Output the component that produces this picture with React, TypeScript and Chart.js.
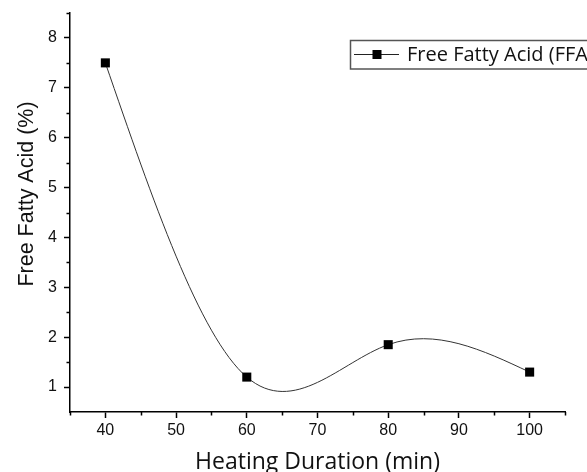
import React, { useEffect, useRef } from "react";
import { Chart, registerables } from "chart.js";

Chart.register(...registerables);

const durations = [40, 60, 80, 100];
const ffaValues = [7.5, 1.2, 1.85, 1.3];
const seriesLabel = "Free Fatty Acid (FFA)";
const xTitle = "Heating Duration (min)";
const yTitle = "Free Fatty Acid (%)";
const xMajorTicks = [40, 50, 60, 70, 80, 90, 100];
const xMinorTicks = [35, 45, 55, 65, 75, 85, 95, 105];
const yMajorTicks = [1, 2, 3, 4, 5, 6, 7, 8];
const yMinorTicks = [1.5, 2.5, 3.5, 4.5, 5.5, 6.5, 7.5, 8.5];

// Sets the Bezier control points of the line elements so that the path
// follows a natural cubic spline through the data points (as Origin draws).
const naturalSplinePlugin = {
  id: "naturalSpline",
  beforeDatasetDraw(chart: any, args: any) {
    const meta = args.meta;
    const line = meta.dataset;
    if (!line) return;
    if (line.updateControlPoints) line.updateControlPoints(chart.chartArea, "x");
    const pts = meta.data;
    const n = pts.length;
    if (n < 3) return;
    const xs = pts.map((p: any) => p.x);
    const ys = pts.map((p: any) => p.y);
    const h: number[] = [];
    for (let i = 0; i < n - 1; i++) h.push(xs[i + 1] - xs[i]);
    const M = new Array(n).fill(0);
    const a: number[] = [], b: number[] = [], c: number[] = [], d: number[] = [];
    for (let i = 1; i < n - 1; i++) {
      a.push(h[i - 1]);
      b.push(2 * (h[i - 1] + h[i]));
      c.push(h[i]);
      d.push(6 * ((ys[i + 1] - ys[i]) / h[i] - (ys[i] - ys[i - 1]) / h[i - 1]));
    }
    const m = b.length;
    for (let i = 1; i < m; i++) {
      const w = a[i] / b[i - 1];
      b[i] -= w * c[i - 1];
      d[i] -= w * d[i - 1];
    }
    const sol = new Array(m).fill(0);
    sol[m - 1] = d[m - 1] / b[m - 1];
    for (let i = m - 2; i >= 0; i--) sol[i] = (d[i] - c[i] * sol[i + 1]) / b[i];
    for (let i = 0; i < m; i++) M[i + 1] = sol[i];
    for (let i = 0; i < n - 1; i++) {
      const hi = h[i];
      const sl = (ys[i + 1] - ys[i]) / hi;
      const s0 = sl - (hi * (2 * M[i] + M[i + 1])) / 6;
      const s1 = sl + (hi * (M[i] + 2 * M[i + 1])) / 6;
      pts[i].cp2x = xs[i] + hi / 3;
      pts[i].cp2y = ys[i] + (s0 * hi) / 3;
      pts[i + 1].cp1x = xs[i + 1] - hi / 3;
      pts[i + 1].cp1y = ys[i + 1] - (s1 * hi) / 3;
    }
    pts[0].cp1x = xs[0];
    pts[0].cp1y = ys[0];
    pts[n - 1].cp2x = xs[n - 1];
    pts[n - 1].cp2y = ys[n - 1];
    line._pointsUpdated = true;
  },
};

const decorPlugin = {
  id: "decor",
  afterDraw(chart: any) {
    const ctx = chart.ctx;
    const xs = chart.scales.x;
    const ys = chart.scales.y;
    const area = chart.chartArea;
    ctx.save();
    // minor ticks
    ctx.strokeStyle = "#000";
    ctx.lineWidth = 1.5;
    ctx.beginPath();
    xMinorTicks.forEach((v) => {
      const px = Math.round(xs.getPixelForValue(v)) + 0.5;
      ctx.moveTo(px, area.bottom);
      ctx.lineTo(px, area.bottom + 3.5);
    });
    yMinorTicks.forEach((v) => {
      const py = Math.round(ys.getPixelForValue(v)) + 0.5;
      ctx.moveTo(area.left, py);
      ctx.lineTo(area.left - 3.5, py);
    });
    ctx.stroke();

    // axis titles
    ctx.fillStyle = "#111";
    ctx.font = '23px "Open Sans"';
    ctx.textAlign = "center";
    ctx.textBaseline = "alphabetic";
    ctx.fillText(xTitle, (area.left + area.right) / 2, 469);

    ctx.save();
    ctx.translate(32.5, 194);
    ctx.rotate(-Math.PI / 2);
    ctx.font = '21.5px "Liberation Sans", Arial, sans-serif';
    ctx.fillText(yTitle, 0, 0);
    ctx.restore();

    // legend
    const label = chart.data.datasets[0].label;
    ctx.strokeStyle = "#555";
    ctx.lineWidth = 1.5;
    ctx.strokeRect(350.5, 40.5, 300, 28.5);
    ctx.strokeStyle = "#222";
    ctx.lineWidth = 1;
    ctx.beginPath();
    ctx.moveTo(354, 54.5);
    ctx.lineTo(399, 54.5);
    ctx.stroke();
    ctx.fillStyle = "#000";
    ctx.fillRect(372.5, 50, 9, 9);
    ctx.fillStyle = "#111";
    ctx.font = '20px "Open Sans"';
    ctx.textAlign = "left";
    ctx.textBaseline = "middle";
    ctx.fillText(label, 407, 55);
    ctx.restore();
  },
};

export default function App() {
  const ref = useRef<HTMLCanvasElement>(null);
  useEffect(() => {
    if (!ref.current) return;
    const chart = new Chart(ref.current, {
      type: "line",
      data: {
        datasets: [
          {
            label: seriesLabel,
            data: durations.map((d, i) => ({ x: d, y: ffaValues[i] })),
            borderColor: "#333",
            borderWidth: 1,
            backgroundColor: "#000",
            pointBackgroundColor: "#000",
            pointBorderColor: "#000",
            pointBorderWidth: 0,
            pointStyle: "rect",
            pointRadius: 6.4,
            tension: 0.4,
            fill: false,
          },
        ],
      },
      plugins: [naturalSplinePlugin, decorPlugin],
      options: {
        responsive: false,
        animation: false,
        layout: { padding: { top: 13, right: 22, left: 0, bottom: 0 } },
        plugins: {
          legend: { display: false },
          tooltip: { enabled: false },
        },
        scales: {
          x: {
            type: "linear",
            min: 35,
            max: 105,
            afterBuildTicks: (s: any) => {
              s.ticks = xMajorTicks.map((v) => ({ value: v }));
            },
            afterFit: (s: any) => {
              s.height = 60;
              s.paddingLeft = 0;
              s.paddingRight = 0;
            },
            grid: {
              drawOnChartArea: false,
              drawTicks: true,
              tickLength: 6,
              tickWidth: 1.5,
              tickColor: "#000",
            },
            border: { display: true, color: "#000", width: 1.5 },
            ticks: {
              color: "#111",
              padding: 3,
              maxRotation: 0,
              font: { family: '"Liberation Sans", Arial, sans-serif', size: 16 },
            },
          },
          y: {
            type: "linear",
            min: 0.5,
            max: 8.5,
            afterBuildTicks: (s: any) => {
              s.ticks = yMajorTicks.map((v) => ({ value: v }));
            },
            afterFit: (s: any) => {
              s.width = 70;
              s.paddingTop = 0;
              s.paddingBottom = 0;
            },
            grid: {
              drawOnChartArea: false,
              drawTicks: true,
              tickLength: 6,
              tickWidth: 1.5,
              tickColor: "#000",
            },
            border: { display: true, color: "#000", width: 1.5 },
            ticks: {
              color: "#111",
              padding: 7,
              font: { family: '"Liberation Sans", Arial, sans-serif', size: 16 },
            },
          },
        },
      },
    });
    return () => chart.destroy();
  }, []);
  return (
    <div style={{ position: "fixed", left: 0, top: 0, width: 587, height: 472, background: "#fff" }}>
      <canvas ref={ref} width={587} height={472} style={{ display: "block" }} />
    </div>
  );
}
